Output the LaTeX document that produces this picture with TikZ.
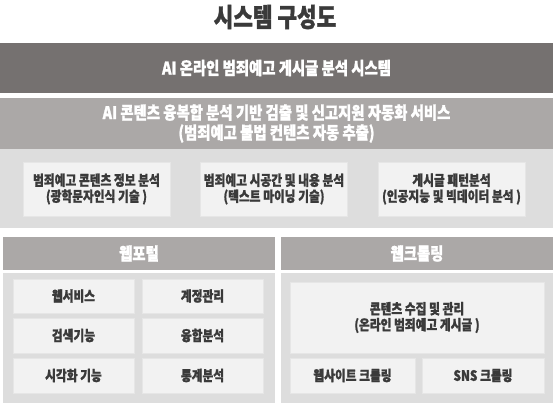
\documentclass[tikz,border=0pt]{standalone}
\usepackage{fontspec}
\setmainfont{Noto Sans CJK KR}[FakeStretch=0.82,BoldFeatures={FakeBold=1.2}]
\definecolor{bardark}{HTML}{757170}
\definecolor{barmid}{HTML}{ABA8A7}
\definecolor{panel}{HTML}{DDDDDD}
\definecolor{cell}{HTML}{F2F2F2}
\definecolor{cellline}{HTML}{E6E6E6}
\definecolor{ink}{HTML}{3A3A3A}

\begin{document}
\begin{tikzpicture}[x=1pt,y=-1pt,
    bar/.style={rectangle,inner sep=0pt,align=center,text=white,font=\bfseries\fontsize{17.5}{20}\selectfont},
    head/.style={bar,fill=barmid,minimum width=272pt,minimum height=33pt},
    panelbox/.style={rectangle,inner sep=0pt,fill=panel},
    cellbox/.style={rectangle,inner sep=0pt,fill=cell,draw=cellline,line width=0.8pt,align=center,text=ink,font=\bfseries\fontsize{14.3}{16}\selectfont}]

        % Page
        \useasboundingbox[fill=white] (0,0) rectangle (553,406);

        % Title
        \node[text=ink,font=\bfseries\fontsize{26}{28}\selectfont] (title) at (275,17) {시스템 구성도};

        % System bars
        \node[bar,fill=bardark,minimum width=553pt,minimum height=50pt] (system) at (276.5,68) {AI 온라인 범죄예고 게시글 분석 시스템};
        \node[bar,fill=barmid,minimum width=553pt,minimum height=51pt] (service) at (276.5,123.5) {AI 콘텐츠 융복합 분석 기반 검출 및 신고지원 자동화 서비스\\(범죄예고 불법 컨텐츠 자동 추출)};

        % Analysis panel
        \node[panelbox,minimum width=553pt,minimum height=79pt] (analysis) at (276.5,188.5) {};
        \node[cellbox,minimum width=147pt,minimum height=54pt] (ocr) at (96.5,189) {범죄예고 콘텐츠 정보 분석\\(광학문자인식 기술 )};
        \node[cellbox,minimum width=147pt,minimum height=54pt] (mining) at (274,189) {범죄예고 시공간 및 내용 분석\\(텍스트 마이닝 기술)};
        \node[cellbox,minimum width=147pt,minimum height=54pt] (pattern) at (451.5,189) {게시글 패턴분석\\(인공지능 및 빅데이터 분석 )};

        % Web portal
        \node[head] (portal) at (139,253.5) {웹포털};
        \node[panelbox,minimum width=272pt,minimum height=130pt] (portalpanel) at (139,338) {};
        \node[cellbox,minimum width=121pt,minimum height=34pt] (websvc) at (73.5,296) {웹서비스};
        \node[cellbox,minimum width=121pt,minimum height=34pt] (account) at (202.5,296) {계정관리};
        \node[cellbox,minimum width=121pt,minimum height=35pt] (search) at (73.5,335.5) {검색기능};
        \node[cellbox,minimum width=121pt,minimum height=35pt] (fusion) at (202.5,335.5) {융합분석};
        \node[cellbox,minimum width=121pt,minimum height=35pt] (visual) at (73.5,375.5) {시각화 기능};
        \node[cellbox,minimum width=121pt,minimum height=35pt] (stats) at (202.5,375.5) {통계분석};

        % Web crawling
        \node[head] (crawl) at (417,253.5) {웹크롤링};
        \node[panelbox,minimum width=272pt,minimum height=130pt] (crawlpanel) at (417,338) {};
        \node[cellbox,minimum width=254pt,minimum height=71pt] (collect) at (417,317.5) {콘텐츠 수집 및 관리\\(온라인 범죄예고 게시글 )};
        \node[cellbox,minimum width=125pt,minimum height=35pt] (site) at (352.5,375.5) {웹사이트 크롤링};
        \node[cellbox,minimum width=122pt,minimum height=35pt] (sns) at (483,375.5) {SNS 크롤링};

\end{tikzpicture}
\end{document}
